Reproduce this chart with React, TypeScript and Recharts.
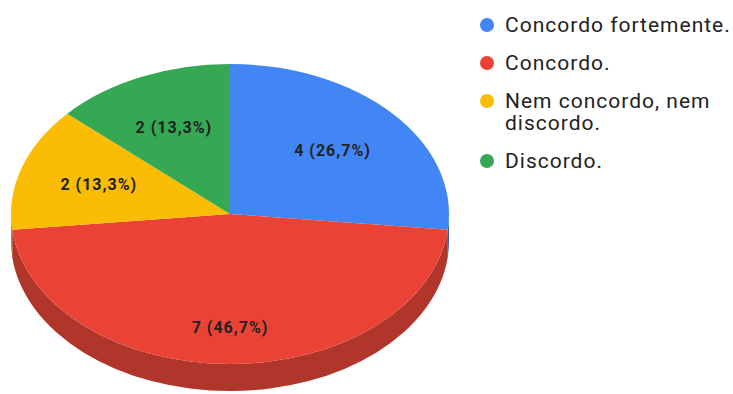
import React from 'react';
import { PieChart, Pie, Cell, Legend } from 'recharts';

const categories = ['Concordo fortemente.', 'Concordo.', 'Nem concordo, nem discordo.', 'Discordo.'];
const counts = [4, 7, 2, 2];
const colors = ['#4285f4', '#ea4335', '#fbbc04', '#34a853'];
const sideColors = ['#2f5fb3', '#b0352b', '#b88a00', '#24783b'];

const data = categories.map((name, i) => ({ name, value: counts[i] }));

// ellipse geometry for the tilted (3D) pie
const RX = 219;
const RY = 150;
const DEPTH = 27;

const pt = (cx: number, cy: number, deg: number, k = 1): [number, number] => {
  const r = (deg * Math.PI) / 180;
  return [cx + RX * k * Math.cos(r), cy - RY * k * Math.sin(r)];
};

function Slice(props: any) {
  const { cx, cy, startAngle, endAngle, fill } = props;
  const name = props.payload?.name ?? props.name;
  const i = categories.indexOf(name);
  const s = Math.max(startAngle, endAngle);
  const e = Math.min(startAngle, endAngle);
  const [x1, y1] = pt(cx, cy, s);
  const [x2, y2] = pt(cx, cy, e);
  const large = s - e > 180 ? 1 : 0;
  const top = `M${cx},${cy} L${x1},${y1} A${RX},${RY} 0 ${large} 1 ${x2},${y2} Z`;

  let side = null;
  const hi = Math.min(s, 0);
  const lo = Math.max(e, -180);
  if (hi > lo) {
    const [a1, b1] = pt(cx, cy, hi);
    const [a2, b2] = pt(cx, cy, lo);
    side = `M${a1},${b1} A${RX},${RY} 0 0 1 ${a2},${b2} L${a2},${b2 + DEPTH} A${RX},${RY} 0 0 0 ${a1},${b1 + DEPTH} Z`;
  }
  return (
    <g>
      {side && <path d={side} fill={sideColors[i]} />}
      <path d={top} fill={fill} />
    </g>
  );
}

function renderLabel(props: any) {
  const { cx, cy, midAngle, value, percent } = props;
  const [x, y0] = pt(cx, cy, midAngle, 0.63);
  const y = y0 + Math.max(0, -Math.sin((midAngle * Math.PI) / 180)) * 19;
  const pct = (percent * 100).toFixed(1).replace('.', ',');
  return (
    <text
      x={x}
      y={y}
      textAnchor="middle"
      dominantBaseline="central"
      fill="#222"
      fontSize={16}
      fontWeight="bold"
      letterSpacing={1}
      fontFamily="Roboto, sans-serif"
    >
      {`${value} (${pct}%)`}
    </text>
  );
}

function LegendList() {
  return (
    <div style={{ fontFamily: 'Roboto, sans-serif', fontSize: 21, letterSpacing: 1, color: '#222', lineHeight: '22px' }}>
      {categories.map((name, i) => (
        <div key={name} style={{ display: 'flex', alignItems: 'flex-start', marginBottom: 16 }}>
          <span
            style={{
              width: 14,
              height: 14,
              borderRadius: 7,
              background: colors[i],
              marginTop: 4,
              marginRight: 11,
              flexShrink: 0,
            }}
          />
          <span style={{ width: 230 }}>{name}</span>
        </div>
      ))}
    </div>
  );
}

export default function App() {
  return (
    <div style={{ position: 'absolute', left: 0, top: 0, background: '#fff' }}>
      <PieChart width={733} height={394} margin={{ top: 0, right: 0, bottom: 0, left: 0 }}>
        <Legend
          layout="vertical"
          align="right"
          verticalAlign="top"
          content={<LegendList />}
          wrapperStyle={{ left: 480, top: 14, width: 253 }}
        />
        <Pie
          data={data}
          dataKey="value"
          nameKey="name"
          cx={230}
          cy={214}
          outerRadius={150}
          startAngle={90}
          endAngle={-270}
          stroke="none"
          shape={Slice}
          activeShape={Slice}
          label={renderLabel}
          labelLine={false}
          isAnimationActive={false}
        >
          {data.map((d, i) => (
            <Cell key={d.name} fill={colors[i]} />
          ))}
        </Pie>
      </PieChart>
    </div>
  );
}
